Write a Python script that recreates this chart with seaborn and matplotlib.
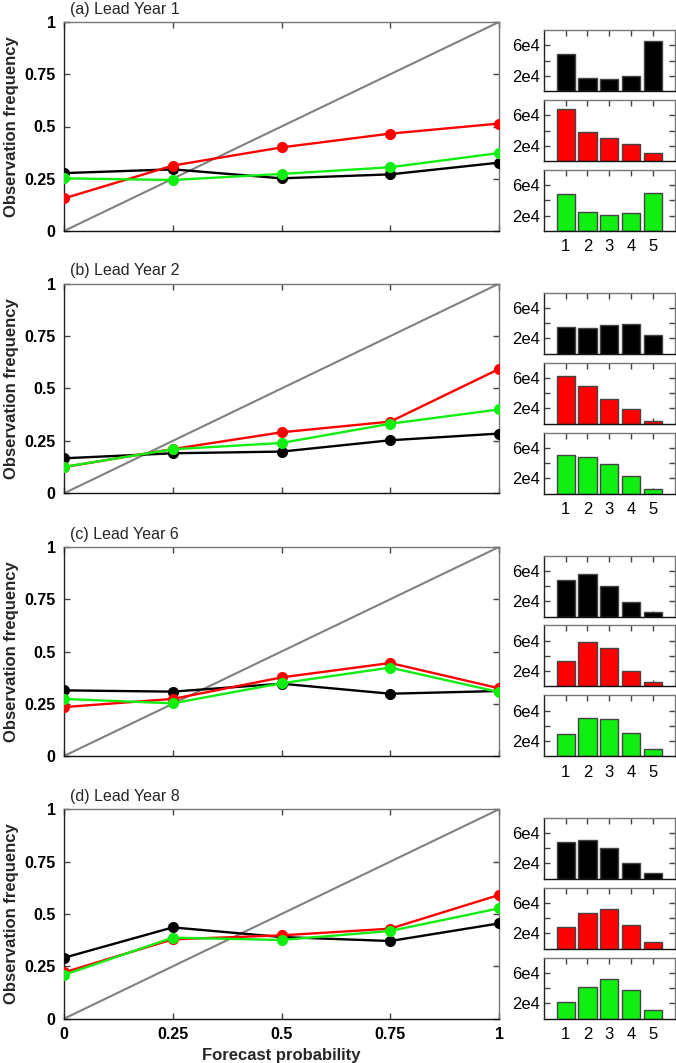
import numpy as np
import matplotlib
matplotlib.use('Agg')
import matplotlib.pyplot as plt
import seaborn as sns

# reliability curves, one row per lead year (1, 2, 6, 8)
prob = [0, 0.25, 0.5, 0.75, 1]
leads = ['(a) Lead Year 1', '(b) Lead Year 2', '(c) Lead Year 6', '(d) Lead Year 8']
obs_black = [[0.277, 0.295, 0.252, 0.271, 0.327],
             [0.167, 0.191, 0.199, 0.253, 0.285],
             [0.314, 0.308, 0.346, 0.298, 0.311],
             [0.291, 0.436, 0.390, 0.371, 0.455]]
obs_red = [[0.156, 0.313, 0.400, 0.466, 0.514],
           [0.125, 0.211, 0.291, 0.342, 0.593],
           [0.234, 0.273, 0.376, 0.445, 0.324],
           [0.221, 0.379, 0.398, 0.430, 0.591]]
obs_green = [[0.252, 0.244, 0.273, 0.305, 0.373],
             [0.126, 0.210, 0.240, 0.332, 0.400],
             [0.273, 0.252, 0.348, 0.423, 0.306],
             [0.209, 0.387, 0.376, 0.419, 0.527]]

# sample counts per forecast bin
bins = [1, 2, 3, 4, 5]
cnt_black = [[4.91e4, 1.74e4, 1.61e4, 1.91e4, 6.57e4],
             [3.48e4, 3.43e4, 3.74e4, 3.96e4, 2.43e4],
             [4.78e4, 5.57e4, 4.09e4, 1.87e4, 0.65e4],
             [4.78e4, 5.13e4, 4.04e4, 2.00e4, 0.78e4]]
cnt_red = [[6.83e4, 3.83e4, 3.04e4, 2.17e4, 1.04e4],
           [6.22e4, 5.00e4, 3.30e4, 1.87e4, 0.35e4],
           [3.26e4, 5.87e4, 5.00e4, 2.04e4, 0.52e4],
           [2.91e4, 4.65e4, 5.17e4, 3.17e4, 0.91e4]]
cnt_green = [[4.83e4, 2.43e4, 2.04e4, 2.30e4, 5.04e4],
             [5.09e4, 4.83e4, 3.87e4, 2.30e4, 0.60e4],
             [2.96e4, 5.00e4, 4.87e4, 3.00e4, 0.96e4],
             [2.22e4, 4.22e4, 5.17e4, 3.74e4, 1.17e4]]

colors = ['black', '#ff0000', '#11ee11']

sns.set_style('ticks')
plt.rcParams['font.family'] = ['Liberation Sans', 'DejaVu Sans']

W, H = 676, 1063
fig = plt.figure(figsize=(W / 100, H / 100), dpi=100)


def px_axes(left, top, right, bottom):
    return fig.add_axes([left / W, (H - bottom) / H, (right - left) / W, (bottom - top) / H])


def style_spines(ax):
    ax.spines['left'].set_color('#222222')
    ax.spines['bottom'].set_color('#111111')
    ax.spines['top'].set_color('#777777')
    ax.spines['right'].set_color('#777777')
    for s in ax.spines.values():
        s.set_visible(True)
        s.set_linewidth(1.0)


main_tops = [22, 283.7, 547, 809.3]
main_bots = [231, 493.3, 756, 1018.7]
hist_tops = [[30, 100, 170], [292.7, 362.7, 432.7], [555.7, 625.3, 695.3], [817.7, 887.7, 957.7]]

for i in range(4):
    ax = px_axes(64, main_tops[i], 499, main_bots[i])
    ax.axline((0, 0), slope=1, color='#808080', lw=1.5, zorder=1)
    for vals, c in zip([obs_black[i], obs_red[i], obs_green[i]], colors):
        sns.lineplot(x=prob, y=vals, color=c, marker='o', markersize=8,
                     markeredgewidth=0, lw=1.7, ax=ax, zorder=3)
    ax.set_xlim(0, 1)
    ax.set_ylim(0, 1)
    ax.set_xticks(prob)
    ax.set_yticks(prob)
    ax.set_yticklabels(['0', '0.25', '0.5', '0.75', '1'], fontweight='bold', fontsize=11.5)
    if i == 3:
        ax.set_xticklabels(['0', '0.25', '0.5', '0.75', '1'], fontweight='bold', fontsize=11.5)
        ax.set_xlabel('Forecast probability', fontweight='bold', fontsize=12, labelpad=4)
    else:
        ax.set_xticklabels([])
        ax.set_xlabel('')
    ax.set_ylabel('Observation frequency', fontweight='bold', fontsize=12, labelpad=4)
    ax.tick_params(direction='in', top=True, right=True, length=4, width=1,
                   pad=6, colors='#444444', labelcolor='black')
    style_spines(ax)
    ax.text(0.014, 1.025, leads[i], transform=ax.transAxes, fontsize=11.5,
            ha='left', va='bottom')

    for j, (cnts, c) in enumerate(zip([cnt_black[i], cnt_red[i], cnt_green[i]], colors)):
        top = hist_tops[i][j]
        hx = px_axes(543.7, top, 675, top + 61)
        sns.barplot(x=bins, y=cnts, color=c, saturation=1, width=0.83,
                    edgecolor='#444444', linewidth=1, ax=hx)
        hx.set_xlim(-1, 5)
        hx.set_ylim(0, 8e4)
        hx.set_yticks([2e4, 4e4, 6e4])
        hx.set_yticklabels(['2e4', '', '6e4'], fontsize=12)
        hx.set_xlabel('')
        hx.set_ylabel('')
        hx.set_xticks(range(5))
        if j == 2:
            hx.set_xticklabels([str(b) for b in bins], fontsize=12)
        else:
            hx.set_xticklabels([])
        hx.tick_params(axis='y', direction='in', left=True, right=True, length=4,
                       width=1, pad=3, colors='#444444', labelcolor='black')
        hx.tick_params(axis='x', direction='in', top=True, bottom=True, length=4,
                       width=1, pad=6, colors='#444444', labelcolor='black')
        style_spines(hx)

fig.savefig('out.png', dpi=100)
